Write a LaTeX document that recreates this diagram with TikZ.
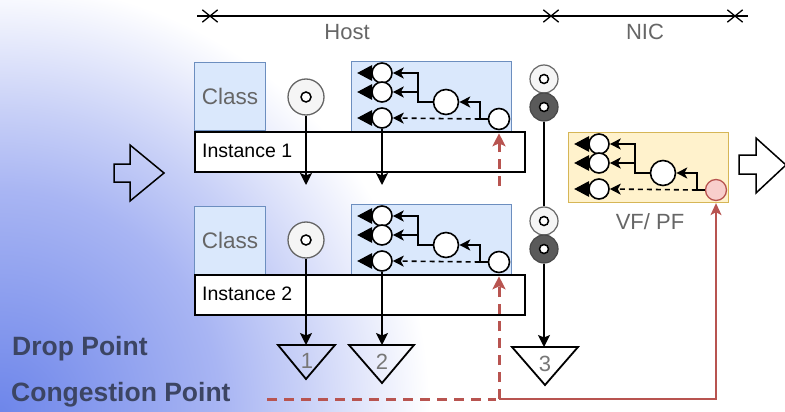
\documentclass[tikz,border=0pt]{standalone}
\usepackage{fontspec}
\setmainfont{Liberation Sans}
\usetikzlibrary{arrows.meta,shapes.misc,calc}
\definecolor{boxblue}{HTML}{DAE8FC}
\definecolor{boxblueline}{HTML}{6C8EBF}
\definecolor{vffill}{HTML}{FFF2CC}
\definecolor{vfline}{HTML}{D6B656}
\definecolor{pinkfill}{HTML}{F8CECC}
\definecolor{redline}{HTML}{B85450}
\definecolor{lbl}{HTML}{666666}
\definecolor{numgray}{HTML}{777777}
\definecolor{navy}{HTML}{3C4563}
\definecolor{lightc}{HTML}{F5F5F5}
\definecolor{darkc}{HTML}{5A5A5A}
\pgfdeclareradialshading{bgshade}{\pgfpoint{0bp}{0bp}}{rgb(0bp)=(0.43,0.525,0.918); rgb(9bp)=(0.66,0.71,0.953); rgb(12.3bp)=(0.784,0.816,0.969); rgb(17.5bp)=(1,1,1); rgb(50bp)=(1,1,1)}

\newcommand{\qdiag}[5]{%
  \node[#4] (#1box) at (#2,#3) {};
  \node[qc] (#1a) at ({#2+31},{#3+12}) {};
  \node[qc] (#1b) at ({#2+31},{#3+31}) {};
  \node[qc] (#1c) at ({#2+31},{#3+57}) {};
  \node[qm] (#1m) at ({#2+95},{#3+41}) {};
  \node[#5] (#1r) at ({#2+148},{#3+58}) {};
  \foreach \n in {a,b,c}{\fill (#1\n.west) ++(1,-8) -- ++(0,16) -- ++(-15,-8) -- cycle;}
  \draw[qarrow] (#1m.west) -- ++(-15,0) |- (#1a.east);
  \draw[qarrow] (#1m.west) -- ++(-15,0) |- (#1b.east);
  \draw[qarrow] (#1r.west) -- ++(-8,0) |- (#1m.east);
  \draw[qarrow,dash pattern=on 5pt off 4pt] ([xshift=-8pt]#1r.west) -- (#1c.east);
}

\begin{document}
\begin{tikzpicture}[x=1pt,y=-1pt,
  qbox/.style={draw=boxblueline, fill=boxblue, line width=1.2pt, inner sep=0pt, minimum width=160pt, minimum height=70pt, anchor=north west},
  vfbox/.style={qbox, draw=vfline, fill=vffill},
  qc/.style={circle, draw=black, fill=white, line width=1.6pt, minimum size=20pt, inner sep=0pt},
  qm/.style={qc, minimum size=25pt},
  qr/.style={qc, minimum size=21pt},
  qrred/.style={qr, draw=redline, fill=pinkfill, line width=1.3pt},
  qarrow/.style={line width=1.6pt, -{Stealth[length=11pt,width=11pt,inset=3pt]}},
  varrow/.style={line width=1.5pt, -{Stealth[length=12pt,width=12pt,inset=2.5pt]}},
  reddash/.style={draw=redline, line width=3pt, dash pattern=on 10pt off 7pt, -{Stealth[length=13pt,width=13pt,inset=3pt]}, shorten >=3pt},
  redsolid/.style={draw=redline, line width=1.5pt, -{Stealth[length=12pt,width=11pt,inset=3pt]}, shorten >=2pt},
  clsbox/.style={draw=boxblueline, fill=boxblue, line width=1.2pt, inner sep=0pt, minimum width=71pt, minimum height=68pt, anchor=north west, text=lbl, font=\fontsize{22.5}{26}\selectfont},
  instbox/.style={draw=black, fill=white, line width=1.5pt, inner sep=0pt, minimum width=330pt, minimum height=40pt, anchor=north west},
  instlbl/.style={anchor=west, inner sep=0pt, font=\fontsize{19.5}{23}\selectfont},
  glabel/.style={text=lbl, inner sep=0pt, font=\fontsize{22}{26}\selectfont},
  numlbl/.style={text=numgray, inner sep=0pt, font=\fontsize{22}{26}\selectfont},
  biglbl/.style={text=navy, anchor=west, inner sep=0pt, font=\fontsize{26.5}{30}\selectfont\bfseries},
  tgt/.style={circle, draw=lbl, fill=lightc, line width=1.3pt, minimum size=36pt, inner sep=0pt},
  tgtin/.style={circle, draw=black, fill=white, line width=1.5pt, minimum size=10pt, inner sep=0pt},
  lightdot/.style={circle, draw=lbl, fill=lightc, line width=1.2pt, minimum size=28pt, inner sep=0pt},
  darkdot/.style={circle, draw=darkc!80!black, fill=darkc, line width=1.2pt, minimum size=28pt, inner sep=0pt},
  dotin/.style={circle, draw=black, fill=white, line width=1.5pt, minimum size=9pt, inner sep=0pt},
  tick/.style={cross out, draw, line width=1.3pt, minimum width=14pt, minimum height=11pt, inner sep=0pt},
  hollow/.style={draw=black, line width=1.5pt, line join=miter},
  tri/.style={draw=black, line width=1.8pt, line join=miter}
]
\useasboundingbox (0,0) rectangle (785,412);
\begin{scope}
  \clip (0,0) rectangle (785,412);
  \fill[white] (0,0) rectangle (785,412);
  \shade[shading=bgshade] (0,412) circle[radius=614];
\end{scope}

% axis
\coordinate (axL) at (197,16);
\coordinate (axR) at (748,16);
\draw[line width=1.3pt] (axL) -- (axR);
\node[tick] (tk1) at (210,16) {};
\node[tick] (tk2) at (551,16) {};
\node[tick] (tk3) at (735,16) {};
\node[glabel] (host) at (347,32) {Host};
\node[glabel] (nic) at (645,32) {NIC};

% instance 1
\node[clsbox] (cls1) at (194,62) {Class};
\qdiag{q1}{351}{61}{qbox}{qr}
\node[instbox] (inst1) at (194,131) {};
\node[instlbl] (inst1l) at (202,151) {Instance 1};
\node[tgt] (tgt1) at (306,97) {};
\node[tgtin] (tgt1i) at (tgt1) {};
\coordinate (d1) at (306,185);
\coordinate (d2) at (382,185);
\draw[varrow] (tgt1.south) -- (d1);
\draw[varrow] (q1c.south) -- (d2);

% instance 2
\node[clsbox] (cls2) at (194,206) {Class};
\qdiag{q2}{351}{204}{qbox}{qr}
\node[instbox] (inst2) at (194,274) {};
\node[instlbl] (inst2l) at (202,294) {Instance 2};
\node[tgt] (tgt2) at (306,240) {};
\node[tgtin] (tgt2i) at (tgt2) {};

% VF / PF
\qdiag{vf}{568}{132}{vfbox}{qrred}
\node[glabel] (vfl) at (650,222) {VF/ PF};

% middle column
\node[lightdot] (m1a) at (544,79) {};
\node[dotin] (m1ai) at (m1a) {};
\node[darkdot] (m1b) at (544,107) {};
\node[dotin] (m1bi) at (m1b) {};
\node[lightdot] (m2a) at (544,221) {};
\node[dotin] (m2ai) at (m2a) {};
\node[darkdot] (m2b) at (544,249) {};
\node[dotin] (m2bi) at (m2b) {};
\draw[line width=1.5pt] (m1b.south) -- (m2a.north);

% drop point triangles
\draw[tri] (278,345) -- (335,345) -- (306,379) -- cycle;
\draw[tri] (349,345) -- (414,345) -- (382,383) -- cycle;
\draw[tri] (512,347) -- (578,347) -- (545,385) -- cycle;
\node[numlbl] (n1) at (307,361) {1};
\node[numlbl] (n2) at (382,362) {2};
\node[numlbl] (n3) at (545,364) {3};
\coordinate (t1top) at (306,345);
\coordinate (t2top) at (382,345);
\coordinate (t3top) at (544,347);
\draw[varrow] (tgt2.south) -- (t1top);
\draw[varrow] (q2c.south) -- (t2top);
\draw[varrow] (m2b.south) -- (t3top);

% labels
\node[biglbl] (drop) at (12,349) {Drop Point};
\node[biglbl] (cong) at (11,395) {Congestion Point};

% congestion connectors
\coordinate (cgs) at (267,399);
\coordinate (cgj) at (499,399);
\coordinate (r1s) at (499,186);
\draw[redsolid] (cgj) -| (vfr.south);
\draw[reddash, -] (cgs) -- (cgj);
\draw[reddash] (cgj) -- (q2r.south);
\draw[reddash] (r1s) -- (q1r.south);

% in / out hollow arrows
\draw[hollow] (114,164) -- (130,164) -- (130,145) -- (164,173) -- (130,201) -- (130,182) -- (114,182) -- cycle;
\draw[hollow] (739,155) -- (756,155) -- (756,138) -- (786,165) -- (756,193) -- (756,174) -- (739,174) -- cycle;
\end{tikzpicture}
\end{document}
